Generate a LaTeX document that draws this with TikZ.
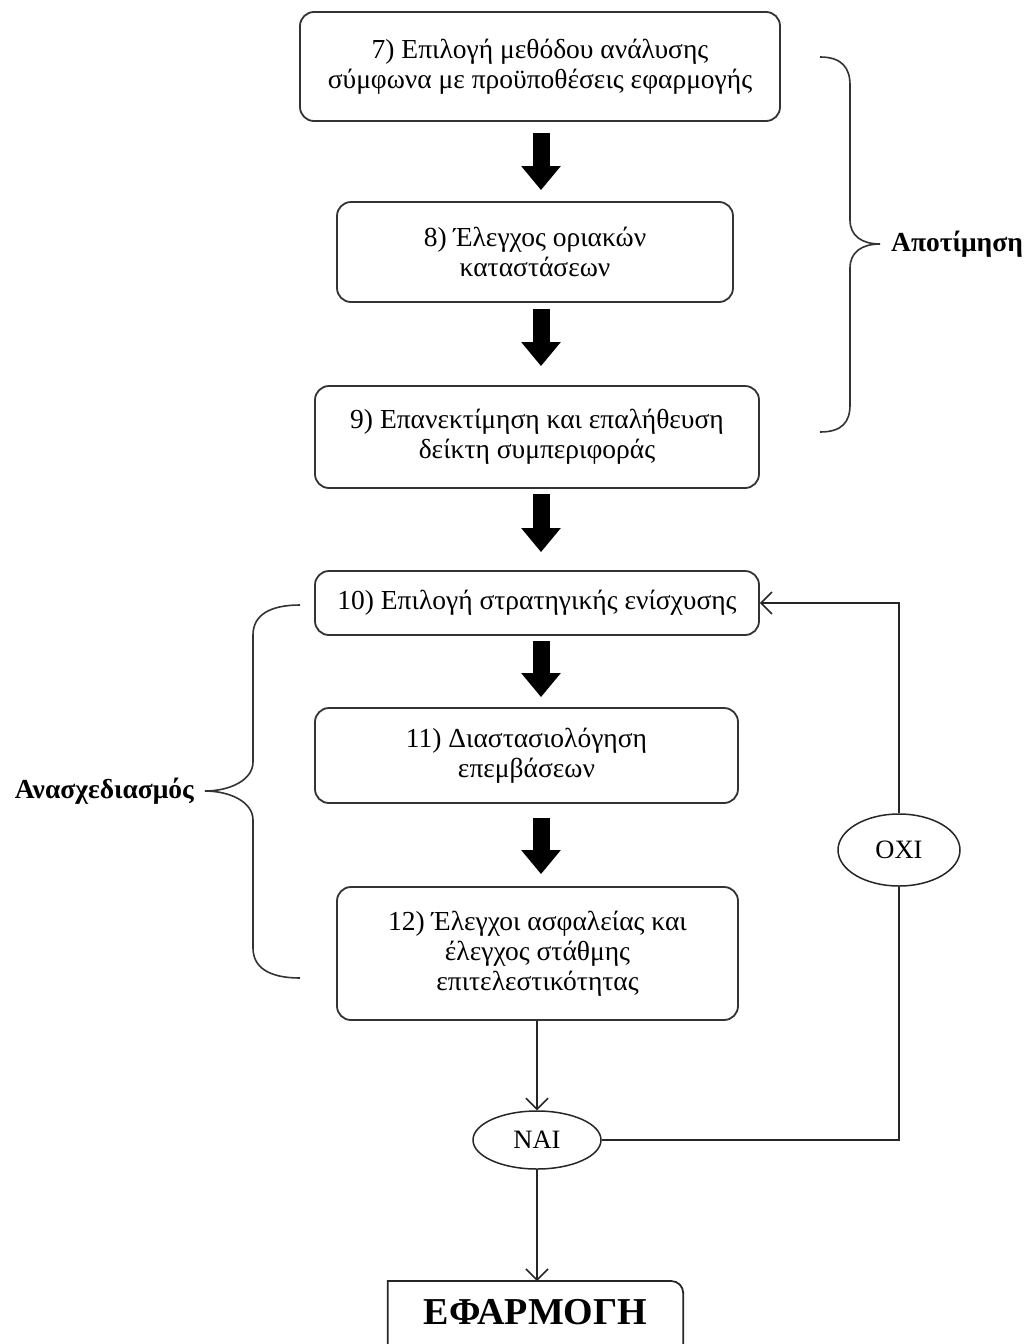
\documentclass[tikz,border=0pt]{standalone}
\usepackage{fontspec}
\setmainfont{Liberation Serif}
\usetikzlibrary{arrows.meta,shapes.geometric}
\tikzset{
  box/.style={draw=black!80, line width=1.8pt, rounded corners=14pt, align=center,
    font=\fontsize{27.5}{30}\selectfont, inner sep=0pt},
  bigarrow/.style={line width=17pt, black, -{Triangle[width=38pt,length=24pt]}},
  conn/.style={line width=1.5pt, black!85},
  openarrow/.style={conn, -{Straight Barb[length=11pt,width=22pt]}},
  ell/.style={draw=black!85, line width=1.5pt, ellipse, inner sep=0pt,
    font=\fontsize{26.5}{28}\selectfont},
  bracelabel/.style={font=\bfseries\fontsize{27.5}{30}\selectfont, inner sep=0pt},
  brace/.style={line width=1.6pt, black!80}
}
\begin{document}
\begin{tikzpicture}[x=1pt,y=-1pt]
\useasboundingbox (0,0) rectangle (1027,1344);
\coordinate (ax) at (541,0);
\node[box, minimum width=480, minimum height=109] (b7) at (540,66.5)
  {7) Επιλογή μεθόδου ανάλυσης\\σύμφωνα με προϋποθέσεις εφαρμογής};
\node[box, minimum width=396, minimum height=100] (b8) at (535,252)
  {8) Έλεγχος οριακών\\καταστάσεων};
\node[box, minimum width=444, minimum height=102] (b9) at (537,437)
  {9) Επανεκτίμηση και επαλήθευση\\δείκτη συμπεριφοράς};
\node[box, minimum width=444, minimum height=64] (b10) at (537,603)
  {10) Επιλογή στρατηγικής ενίσχυσης};
\node[box, minimum width=423, minimum height=95] (b11) at (526.5,755.5)
  {11) Διαστασιολόγηση\\επεμβάσεων};
\node[box, minimum width=401, minimum height=133] (b12) at (537.5,953.5)
  {12) Έλεγχοι ασφαλείας και\\έλεγχος στάθμης\\επιτελεστικότητας};
\node[ell, minimum width=128, minimum height=58] (nai) at (537,1140) {ΝΑΙ};
\node[ell, minimum width=122, minimum height=72] (oxi) at (899,850) {ΟΧΙ};
\node[inner sep=0pt, minimum width=295, minimum height=62, anchor=north,
  font=\bfseries\fontsize{38}{42}\selectfont] (ef) at (535.5,1281) {ΕΦΑΡΜΟΓΗ};
\draw[line width=1.8pt, black!85] (ef.south west) ++(0,40) -- (ef.north west)
  -- ([xshift=-12pt]ef.north east) arc[start angle=90,end angle=0,radius=12pt]
  -- ++(0,100);
% thick arrows
\draw[bigarrow, shorten <=11pt, shorten >=11pt] (b7.south -| ax) -- (b8.north -| ax);
\draw[bigarrow, shorten <=6pt, shorten >=19pt] (b8.south -| ax) -- (b9.north -| ax);
\draw[bigarrow, shorten <=5pt, shorten >=18pt] (b9.south -| ax) -- (b10.north -| ax);
\draw[bigarrow, shorten <=5pt, shorten >=10pt] (b10.south -| ax) -- (b11.north -| ax);
\draw[bigarrow, shorten <=14pt, shorten >=12pt] (b11.south -| ax) -- (b12.north -| ax);
% thin connectors
\draw[openarrow] (nai.north |- b12.south) -- (nai.north);
\draw[openarrow] (nai.south) -- (nai.south |- ef.north);
\draw[conn] (nai.east) -| (oxi.south);
\draw[openarrow] (oxi.north) |- (b10.east);
% braces
\draw[brace] (820,57) .. controls (842,57) and (850,68) .. (850,85) -- (850,220)
  .. controls (850,236) and (862,244) .. (880,244)
  .. controls (862,244) and (850,252) .. (850,268) -- (850,405)
  .. controls (850,422) and (842,432) .. (820,432);
\node[bracelabel, anchor=west] (lab1) at (891,244) {Αποτίμηση};
\draw[brace] (300,605) .. controls (270,605) and (253,615) .. (253,635) -- (253,762)
  .. controls (253,780) and (230,791) .. (205,791)
  .. controls (230,791) and (253,802) .. (253,820) -- (253,948)
  .. controls (253,968) and (270,978) .. (300,978);
\node[bracelabel, anchor=east] (lab2) at (194,791) {Ανασχεδιασμός};
\end{tikzpicture}
\end{document}
